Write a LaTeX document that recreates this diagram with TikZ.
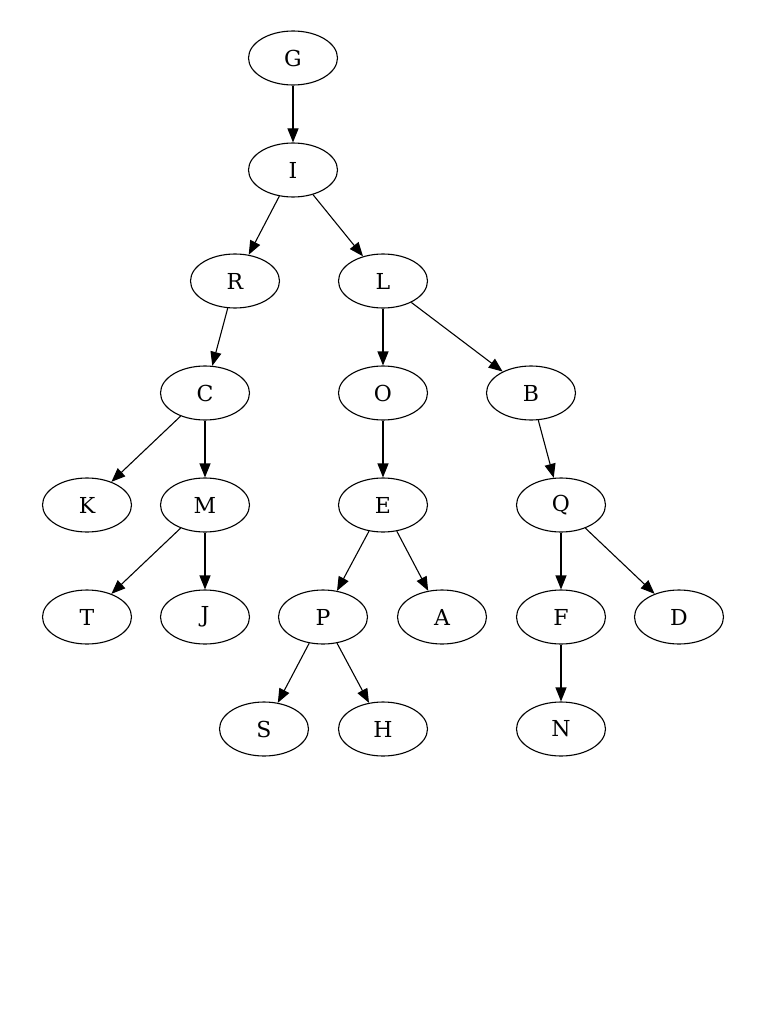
\documentclass[tikz,border=0pt]{standalone}
\usepackage{fontspec}
\setmainfont{DejaVu Serif}
\usetikzlibrary{shapes.geometric,arrows.meta}
\begin{document}
\begin{tikzpicture}[x=1pt,y=-1pt,
  nd/.style={draw,ellipse,line width=1.1pt,minimum width=89pt,minimum height=54pt,inner sep=0pt,font=\fontsize{22}{26}\selectfont},
  ed/.style={draw,line width=1.1pt,-{Triangle[length=14pt,width=11pt]}}]
\useasboundingbox (0,0) rectangle (768,1024);
\fill[white] (0,0) rectangle (768,1024);
\node[nd] (G) at (293,58) {G};
\node[nd] (I) at (293,170) {I};
\node[nd] (R) at (235,281) {R};
\node[nd] (L) at (383,281) {L};
\node[nd] (C) at (205,393) {C};
\node[nd] (O) at (383,393) {O};
\node[nd] (B) at (531,393) {B};
\node[nd] (K) at (87,505) {K};
\node[nd] (M) at (205,505) {M};
\node[nd] (E) at (383,505) {E};
\node[nd] (Q) at (561,505) {Q};
\node[nd] (T) at (87,617) {T};
\node[nd] (J) at (205,617) {J};
\node[nd] (P) at (323,617) {P};
\node[nd] (A) at (442,617) {A};
\node[nd] (F) at (561,617) {F};
\node[nd] (D) at (679,617) {D};
\node[nd] (S) at (264,729) {S};
\node[nd] (H) at (383,729) {H};
\node[nd] (N) at (561,729) {N};
\draw[ed] (G) -- (I);
\draw[ed] (I) -- (R);
\draw[ed] (I) -- (L);
\draw[ed] (R) -- (C);
\draw[ed] (L) -- (O);
\draw[ed] (L) -- (B);
\draw[ed] (C) -- (K);
\draw[ed] (C) -- (M);
\draw[ed] (O) -- (E);
\draw[ed] (B) -- (Q);
\draw[ed] (M) -- (T);
\draw[ed] (M) -- (J);
\draw[ed] (E) -- (P);
\draw[ed] (E) -- (A);
\draw[ed] (Q) -- (F);
\draw[ed] (Q) -- (D);
\draw[ed] (P) -- (S);
\draw[ed] (P) -- (H);
\draw[ed] (F) -- (N);
\end{tikzpicture}
\end{document}
